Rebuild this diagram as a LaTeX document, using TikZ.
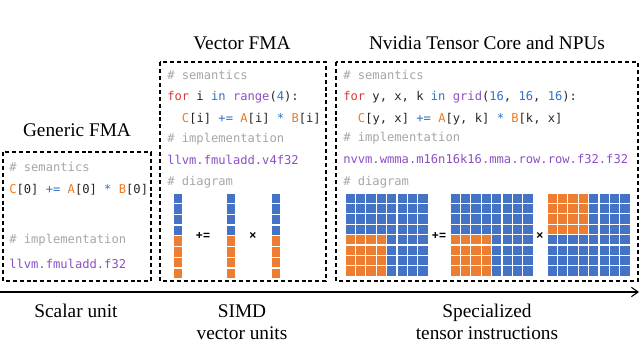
\documentclass[tikz,border=0pt]{standalone}
\usepackage{fontspec}
\setmainfont{Liberation Serif}
\setsansfont{Liberation Sans}
\setmonofont{DejaVu Sans Mono}
\usepackage{xcolor}
\definecolor{fmablue}{HTML}{4472C4}
\definecolor{fmaorange}{HTML}{ED7D31}
\definecolor{cmtgray}{HTML}{A6A6A6}
\definecolor{kwred}{HTML}{D63A3A}
\definecolor{kwblue}{HTML}{2F72C8}
\definecolor{kwpurple}{HTML}{8A4FC4}
\definecolor{varorange}{HTML}{EA7A22}
\newcommand{\cmt}[1]{\textcolor{cmtgray}{#1}}
\newcommand{\kr}[1]{\textcolor{kwred}{#1}}
\newcommand{\kb}[1]{\textcolor{kwblue}{#1}}
\newcommand{\kp}[1]{\textcolor{kwpurple}{#1}}
\newcommand{\vr}[1]{\textcolor{varorange}{#1}}
\usetikzlibrary{arrows.meta}

\begin{document}
\begin{tikzpicture}[
  x=0.75pt, y=-0.75pt,
  fmabox/.style={draw=black, dash pattern=on 3pt off 2.2pt, line width=0.9pt},
  title/.style={font=\fontsize{14.5}{16.5}\selectfont, inner sep=0pt, align=center},
  code/.style={anchor=west, inner sep=0pt, text=black!85, font=\ttfamily\fontsize{9.1}{11}\selectfont},
  op/.style={inner sep=0pt, font=\sffamily\bfseries\fontsize{9}{10}\selectfont},
  cell/.style={draw=white, line width=1pt},
  axis/.style={-{Straight Barb[length=5pt, width=7pt]}, line width=0.8pt}
]
  \useasboundingbox (0,0) rectangle (640,342);

  % titles
  \node[title] (gtitle) at (77,130) {Generic FMA};
  \node[title] (vtitle) at (242,43) {Vector FMA};
  \node[title] (ttitle) at (487,43) {Nvidia Tensor Core and NPUs};

  % boxes
  \draw[fmabox] (3,152) rectangle (151,281);
  \draw[fmabox] (160,62) rectangle (326,281);
  \draw[fmabox] (336,62) rectangle (638,281);

  % generic FMA
  \node[code] (gsem) at (9,167) {\cmt{\# semantics}};
  \node[code] (gexpr) at (9,190) {\vr{C}[0] \kb{+=} \vr{A}[0] \kb{*} \vr{B}[0]};
  \node[code] (gimpl) at (9,240) {\cmt{\# implementation}};
  \node[code] (gllvm) at (9,264) {\kp{llvm.fmuladd.f32}};

  % vector FMA
  \node[code] (vsem) at (167,75) {\cmt{\# semantics}};
  \node[code] (vloop) at (167,97) {\kr{for} i \kb{in} \kp{range}(\kb{4}):};
  \node[code] (vexpr) at (181.7,119) {\vr{C}[i] \kb{+=} \vr{A}[i] \kb{*} \vr{B}[i]};
  \node[code] (vimpl) at (167,139) {\cmt{\# implementation}};
  \node[code] (vllvm) at (167,160) {\kp{llvm.fmuladd.v4f32}};
  \node[code] (vdiag) at (167,182) {\cmt{\# diagram}};

  \foreach \vx in {173,226,271}
    \foreach \r in {0,...,7} {
      \ifnum\r>3 \def\cellcol{fmaorange}\else\def\cellcol{fmablue}\fi
      \filldraw[cell, fill=\cellcol] (\vx,193+\r*10.7) rectangle ++(10,10.7);
    }
  \node[op] (vplus) at (203,236) {+=};
  \node[op] (vtimes) at (253,236) {×};

  % tensor core
  \node[code] (tsem) at (343,75) {\cmt{\# semantics}};
  \node[code] (tloop) at (343,97) {\kr{for} y, x, k \kb{in} \kp{grid}(\kb{16}, \kb{16}, \kb{16}):};
  \node[code] (texpr) at (357.7,119) {\vr{C}[y, x] \kb{+=} \vr{A}[y, k] \kb{*} \vr{B}[k, x]};
  \node[code] (timpl) at (343,138) {\cmt{\# implementation}};
  \node[code] (tnvvm) at (343,159) {\kp{nvvm.wmma.m16n16k16.mma.row.row.f32.f32}};
  \node[code] (tdiag) at (343,182) {\cmt{\# diagram}};

  \foreach \gx in {345,450}
    \foreach \r in {0,...,7}
      \foreach \c in {0,...,7} {
        \ifnum\r>3 \ifnum\c<4 \def\cellcol{fmaorange}\else\def\cellcol{fmablue}\fi\else\def\cellcol{fmablue}\fi
        \filldraw[cell, fill=\cellcol] (\gx+\c*10.4,193+\r*10.4) rectangle ++(10.4,10.4);
      }
  \foreach \r in {0,...,7}
    \foreach \c in {0,...,7} {
      \ifnum\r<4 \ifnum\c<4 \def\cellcol{fmaorange}\else\def\cellcol{fmablue}\fi\else\def\cellcol{fmablue}\fi
      \filldraw[cell, fill=\cellcol] (547+\c*10.4,193+\r*10.4) rectangle ++(10.4,10.4);
    }
  \node[op] (tplus) at (439,236) {+=};
  \node[op] (ttimes) at (540,236) {×};

  % axis
  \coordinate (axstart) at (0,292);
  \coordinate (axend) at (639,292);
  \draw[axis] (axstart) -- (axend);

  \node[title] (scalar) at (76,311) {Scalar unit};
  \node[title] (simd) at (242,322) {SIMD\\vector units};
  \node[title] (tensor) at (487,322) {Specialized\\tensor instructions};
\end{tikzpicture}
\end{document}
